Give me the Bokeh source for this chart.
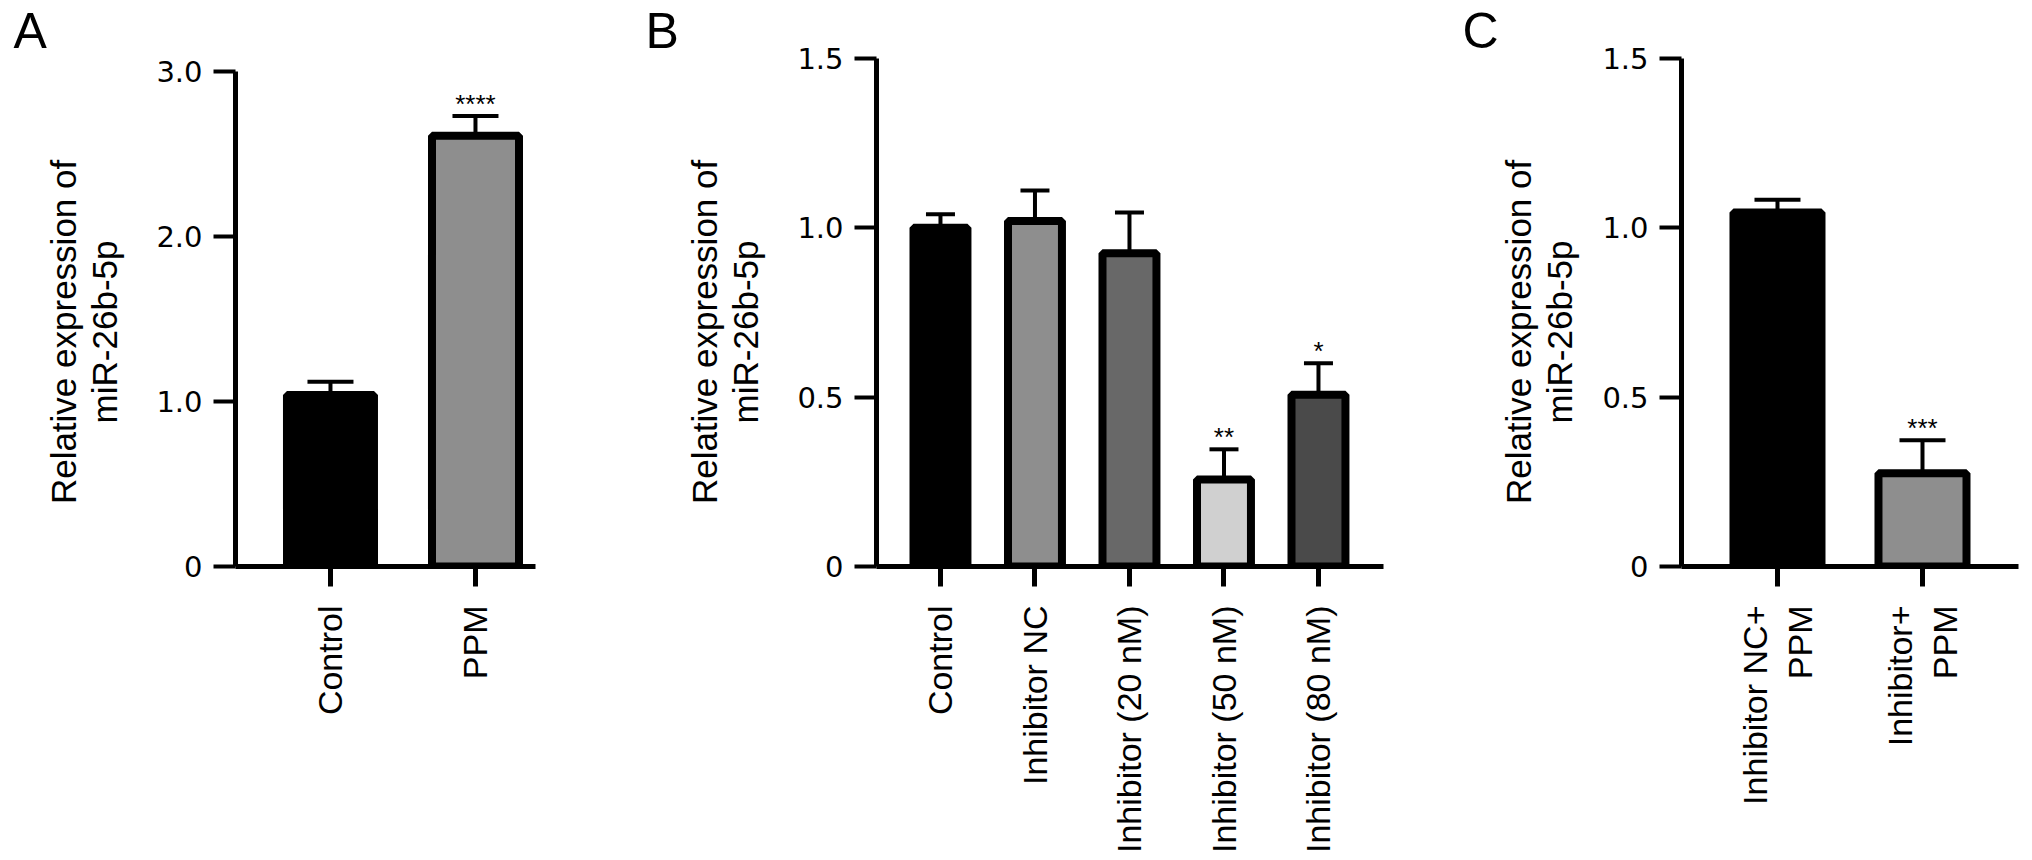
import numpy as np
from bokeh.plotting import figure
from bokeh.models import ColumnDataSource, Range1d, FixedTicker, Whisker, TeeHead
from bokeh.layouts import row
from bokeh.core.properties import value
from bokeh.embed import file_html
from bokeh.resources import INLINE

# ---------------- data ----------------
y_title = "Relative expression of\nmiR-26b-5p"

cats_A = ["Control", "PPM"]
mean_A = [1.04, 2.61]
sem_A = [0.08, 0.12]
sig_A = ["", "****"]

cats_B = ["Control", "Inhibitor NC", "Inhibitor (20 nM)", "Inhibitor (50 nM)", "Inhibitor (80 nM)"]
mean_B = [1.00, 1.02, 0.925, 0.257, 0.507]
sem_B = [0.04, 0.09, 0.12, 0.089, 0.093]
sig_B = ["", "", "", "**", "*"]

cats_C = ["Inhibitor NC+\nPPM", "Inhibitor+\nPPM"]
mean_C = [1.045, 0.275]
sem_C = [0.038, 0.098]
sig_C = ["", "***"]

yticks_A = [0, 1, 2, 3]
ylabels_A = ["0", "1.0", "2.0", "3.0"]
yticks_BC = [0, 0.5, 1, 1.5]
ylabels_BC = ["0", "0.5", "1.0", "1.5"]

# styles
fills_A = ["#000000", "#8e8e8e"]
fills_B = ["#000000", "#8e8e8e", "#686868", "#d0d0d0", "#4a4a4a"]
fills_C = ["#000000", "#8e8e8e"]

H = 858
TOP = 58
BOTTOM = 292
FRAME_H = H - TOP - BOTTOM
# invisible padding at the end of each title line shifts the rotated title down
PAD = "\u00a0" * 4


def panel(letter, cats, means, sems, sig, fills, yticks, ylabels, ymax,
          top_gap_px, width, bl, br, x_start, px_per_cat, frame_w,
          bar_w, cap_px, title_standoff, letter_offset):
    y1 = ymax * FRAME_H / (FRAME_H - top_gap_px)
    x_end = x_start + frame_w / px_per_cat
    p = figure(width=width, height=H,
               x_range=Range1d(x_start, x_end), y_range=Range1d(0, y1),
               output_backend="svg", toolbar_location=None,
               min_border_left=bl, min_border_right=br,
               min_border_top=TOP, min_border_bottom=BOTTOM,
               background_fill_color="white", border_fill_color="white")
    p.outline_line_color = None
    p.xgrid.visible = False
    p.ygrid.visible = False

    # panel letter as the plot title
    p.title.text = letter
    p.title.align = "left"
    p.title.offset = letter_offset
    p.title.standoff = 0
    p.title.text_font = "Liberation Sans"
    p.title.text_font_size = "50px"
    p.title.text_font_style = "normal"
    p.title.text_color = "black"

    xs = np.arange(1, len(cats) + 1, dtype=float)
    means = np.asarray(means, dtype=float)
    upper = means + np.asarray(sems, dtype=float)
    src = ColumnDataSource(dict(x=xs, top=means, upper=upper, sig=sig, fill=fills))

    p.vbar(x="x", top="top", bottom=0, width=bar_w, source=src,
           fill_color="fill", line_color="black", line_width=8)

    wh = Whisker(base="x", lower="top", upper="upper", source=src,
                 dimension="height", line_width=4, line_color="black",
                 upper_head=TeeHead(size=cap_px, line_width=4, line_color="black"),
                 lower_head=None)
    p.add_layout(wh)

    p.text(x="x", y="upper", text="sig", source=src,
           text_font=value("Liberation Sans"), text_font_size="26px",
           text_align="center", text_baseline="alphabetic", y_offset=-12,
           text_color="black")

    # x axis
    xa = p.xaxis[0]
    xa.ticker = FixedTicker(ticks=list(xs))
    xa.major_label_overrides = {int(x): c for x, c in zip(xs, cats)}
    xa.major_label_orientation = np.pi / 2
    xa.major_label_text_font = "Liberation Sans"
    xa.major_label_text_font_size = "34px"
    xa.major_label_text_color = "black"
    xa.major_label_standoff = 19
    xa.axis_line_width = 5
    xa.axis_line_color = "black"
    xa.major_tick_line_width = 5
    xa.major_tick_line_color = "black"
    xa.major_tick_out = 20
    xa.major_tick_in = 0
    xa.minor_tick_line_color = None

    # y axis
    ya = p.yaxis[0]
    ya.bounds = (0, ymax)
    ya.ticker = FixedTicker(ticks=yticks)
    ya.major_label_overrides = {t: l for t, l in zip(yticks, ylabels)}
    ya.major_label_text_font = "DejaVu Sans"
    ya.major_label_text_font_size = "29px"
    ya.major_label_text_color = "black"
    ya.major_label_standoff = 11
    ya.axis_line_width = 5
    ya.axis_line_color = "black"
    ya.major_tick_line_width = 4
    ya.major_tick_line_color = "black"
    ya.major_tick_out = 22
    ya.major_tick_in = 0
    ya.minor_tick_line_color = None
    ya.axis_label = "\n".join(line + PAD for line in y_title.split("\n"))
    ya.axis_label_text_font = "Liberation Sans"
    ya.axis_label_text_font_size = "35px"
    ya.axis_label_text_font_style = "normal"
    ya.axis_label_text_color = "black"
    ya.axis_label_text_line_height = 1.05
    ya.axis_label_standoff = title_standoff
    return p


pA = panel("A", cats_A, mean_A, sem_A, sig_A, fills_A, yticks_A, ylabels_A, 3.0,
           13, 600, 235, 65, 0.345, 145.0, 300, 0.60, 46, 29, -222)
pB = panel("B", cats_B, mean_B, sem_B, sig_B, fills_B, yticks_BC, ylabels_BC, 1.5,
           0, 840, 276, 57, 0.323, 94.5, 507, 0.571, 29, 29, -231)
pC = panel("C", cats_C, mean_C, sem_C, sig_C, fills_C, yticks_BC, ylabels_BC, 1.5,
           0, 590, 241, 12, 0.338, 145.0, 337, 0.607, 46, 20, -219)

layout = row(pA, pB, pC)
open("out.html", "w").write(file_html(layout, INLINE))
